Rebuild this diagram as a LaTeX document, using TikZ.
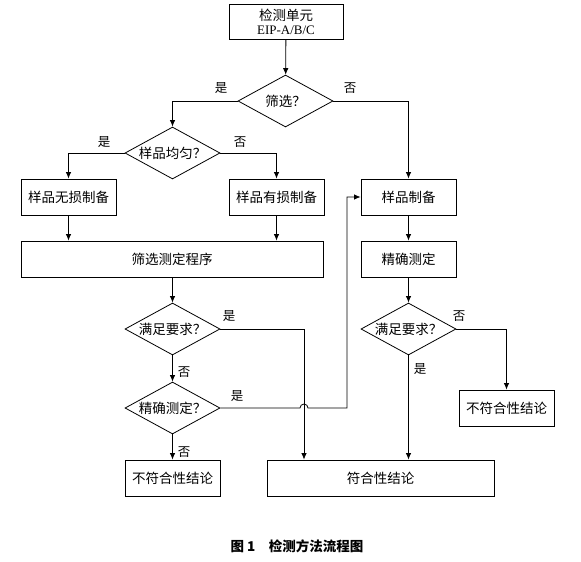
\documentclass[tikz,border=0pt]{standalone}
\usepackage{fontspec}
\setmainfont{Liberation Serif}
\newfontfamily\cjk{Noto Sans CJK SC}
\usetikzlibrary{arrows.meta,positioning,calc}
\usetikzlibrary{shapes.geometric}
\tikzset{
  box/.style={rectangle, draw, line width=0.8pt, minimum width=95pt, minimum height=36pt, inner sep=1pt, align=center, font=\cjk\fontsize{13.5}{16}\selectfont},
  decision/.style={diamond, draw, line width=0.8pt, aspect=1.85, minimum width=95pt, minimum height=52pt, inner sep=0pt, font=\cjk\fontsize{13.5}{16}\selectfont},
  yn/.style={font=\cjk\fontsize{12.5}{14}\selectfont, inner sep=0pt},
  flow/.style={-{Latex[length=6.5pt,width=5.5pt]}, line width=0.8pt}
}
\begin{document}
\begin{tikzpicture}[x=1pt,y=-1pt]
		\useasboundingbox (0,0) rectangle (581,562);
		\node at (286,22) [box, minimum width=114pt, minimum height=35pt] (unit) {检测单元\\[-2pt]{\rmfamily\fontsize{13}{15}\selectfont EIP-A/B/C}};
		\node at (285.5,101) [decision] (screenq) {筛选？};
		\node at (172.5,153) [decision] (evenq) {样品均匀？};
		\node at (68.5,197) [box] (nondes) {样品无损制备};
		\node at (276.5,197) [box] (des) {样品有损制备};
		\node at (172,259) [box, minimum width=302pt] (screen) {筛选测定程序};
		\node at (408.5,197) [box] (prep) {样品制备};
		\node at (408.5,259) [box] (meas) {精确测定};
		\node at (172.5,329) [decision] (okl) {满足要求？};
		\node at (172.5,408) [decision] (accq) {精确测定？};
		\node at (408.5,329) [decision] (okr) {满足要求？};
		\node at (172.5,478) [box] (faill) {不符合性结论};
		\node at (380.5,478) [box, minimum width=227pt] (pass) {符合性结论};
		\node at (506.5,408) [box] (failr) {不符合性结论};
		\coordinate (jmp) at (304,408);
		\coordinate (back) at (347,408);
		\draw [flow] (unit) -- (screenq);
		\draw [flow] (screenq.west) -| (evenq.north);
		\draw [flow] (screenq.east) -| (prep.north);
		\draw [flow] (evenq.west) -| (nondes.north);
		\draw [flow] (evenq.east) -| (des.north);
		\draw [flow] (nondes.south) -- (nondes.south |- screen.north);
		\draw [flow] (des.south) -- (des.south |- screen.north);
		\draw [flow] (okl.north |- screen.south) -- (okl.north);
		\draw [flow] (okl.east) -| (jmp |- pass.north);
		\draw [flow] (okl.south) -- (accq.north);
		\draw [flow] (accq.south) -- (faill.north);
		\draw [flow] (accq.east) -- ([xshift=-4pt]jmp) arc[start angle=180, end angle=0, radius=4pt] -- (back) |- (prep.west);
		\draw [flow] (prep) -- (meas);
		\draw [flow] (meas) -- (okr);
		\draw [flow] (okr.south) -- (okr.south |- pass.north);
		\draw [flow] (okr.east) -| (failr.north);
		\node at (221,88) [yn] (y1) {是};
		\node at (350,88) [yn] (n1) {否};
		\node at (104,142) [yn] (y2) {是};
		\node at (240,142) [yn] (n2) {否};
		\node at (229,316) [yn] (y3) {是};
		\node at (184,372) [yn] (n3) {否};
		\node at (237,396) [yn] (y4) {是};
		\node at (184,452) [yn] (n4) {否};
		\node at (459,316) [yn] (n5) {否};
		\node at (420,369) [yn] (y5) {是};
		\node at (297,546) [font=\cjk\bfseries\fontsize{13.5}{16}\selectfont] (caption) {图 1\quad 检测方法流程图};
\end{tikzpicture}
\end{document}
